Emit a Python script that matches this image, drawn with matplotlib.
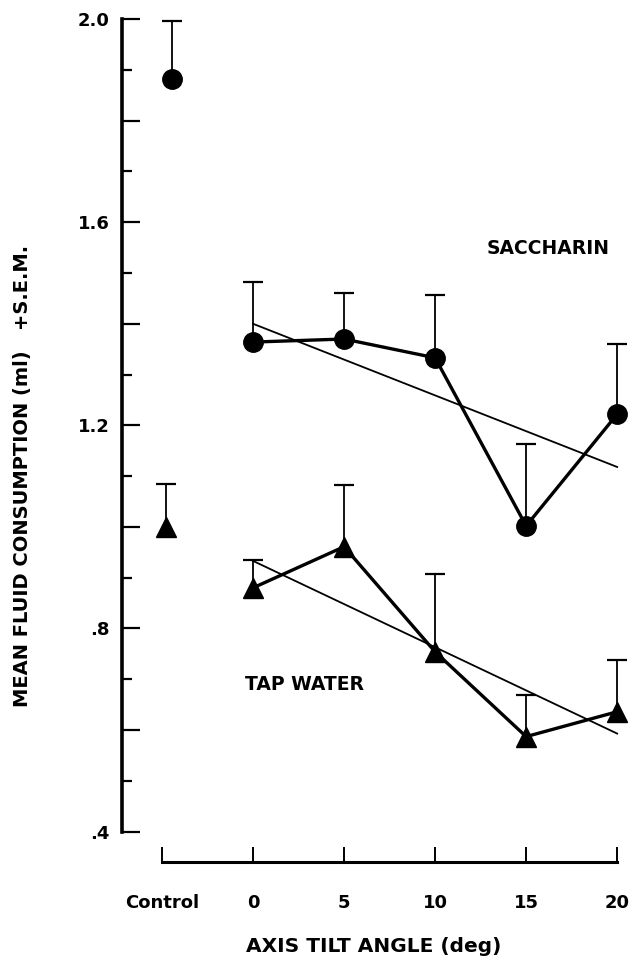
import numpy as np
import matplotlib
matplotlib.use("Agg")
import matplotlib.pyplot as plt

plt.rcParams['font.family'] = ['DejaVu Sans']
plt.rcParams['font.weight'] = 'bold'

# tilt angles (deg) and control position on the x axis
angles = [0, 5, 10, 15, 20]
control_x = -4.7

# saccharin: means and +SEM tops
sacc_control = 1.882
sacc_control_top = 1.996
sacc_mean = [1.364, 1.370, 1.333, 1.002, 1.222]
sacc_top = [1.482, 1.461, 1.457, 1.163, 1.360]
sacc_fit = [1.400, 1.118]

# tap water
tap_control = 1.000
tap_control_top = 1.085
tap_mean = [0.880, 0.961, 0.754, 0.587, 0.636]
tap_top = [0.935, 1.083, 0.907, 0.669, 0.738]
tap_fit = [0.933, 0.593]

fit_x = [0, 20]
xtick_pos = [-5, 0, 5, 10, 15, 20]
xtick_labels = ['Control', '0', '5', '10', '15', '20']
ytick_major = np.round(np.arange(0.4, 2.01, 0.2), 1)
ytick_minor = np.round(np.arange(0.5, 2.0, 0.2), 1)
ytick_labels = ['.4', '', '.8', '', '1.2', '', '1.6', '', '2.0']

fig = plt.figure(figsize=(6.42, 9.65), dpi=100)
ax = fig.add_axes([0.190, 0.1067, 0.794, 0.8777])
ax.set_xlim(-7.2, 20.8)
ax.set_ylim(0.34, 2.008)

def draw_series(xs, means, tops, marker, ms, connect=True):
    ax.vlines(xs, means, tops, colors='black', linewidth=1.3, zorder=2)
    ax.plot(xs, tops, ls='none', marker='_', ms=14, mew=1.6, color='black', zorder=2)
    ax.plot(xs, means, ls='-' if connect else 'none', lw=2.4, color='black',
            marker=marker, ms=ms, zorder=3)

draw_series(angles, sacc_mean, sacc_top, 'o', 14)
draw_series([control_x + 0.25], [sacc_control], [sacc_control_top], 'o', 14, connect=False)
draw_series(angles, tap_mean, tap_top, '^', 15)
draw_series([control_x - 0.1], [tap_control], [tap_control_top], '^', 15, connect=False)

ax.plot(fit_x, sacc_fit, color='black', lw=1.3, zorder=2)
ax.plot(fit_x, tap_fit, color='black', lw=1.3, zorder=2)

ax.text(16.2, 1.549, 'SACCHARIN', ha='center', va='center', fontsize=13.5, fontweight='bold')
ax.text(-0.45, 0.689, 'TAP WATER', ha='left', va='center', fontsize=13.5, fontweight='bold')

for s in ['top', 'right']:
    ax.spines[s].set_visible(False)
ax.spines['left'].set_bounds(0.4, 2.0)
ax.spines['left'].set_linewidth(2.6)
ax.spines['bottom'].set_bounds(-5, 20)
ax.spines['bottom'].set_linewidth(2.2)

ax.set_yticks(ytick_major)
ax.set_yticklabels(ytick_labels)
ax.set_yticks(ytick_minor, minor=True)
ax.tick_params(axis='y', which='major', direction='in', length=13, width=1.6,
               labelsize=13, pad=9)
ax.tick_params(axis='y', which='minor', direction='in', length=7, width=1.6)

ax.set_xticks(xtick_pos)
ax.set_xticklabels(xtick_labels)
ax.tick_params(axis='x', direction='in', length=11, width=1.4, labelsize=13, pad=23)

ax.set_xlabel('AXIS TILT ANGLE (deg)', fontsize=14.5, fontweight='bold')
ax.set_ylabel('MEAN FLUID CONSUMPTION (ml)   +S.E.M.', fontsize=14, fontweight='bold')
ax.xaxis.set_label_coords(0.494, -0.089)
ax.yaxis.set_label_coords(-0.196, 0.456)
ax.yaxis.label.set_va('center')

fig.savefig('out.png', dpi=100)
